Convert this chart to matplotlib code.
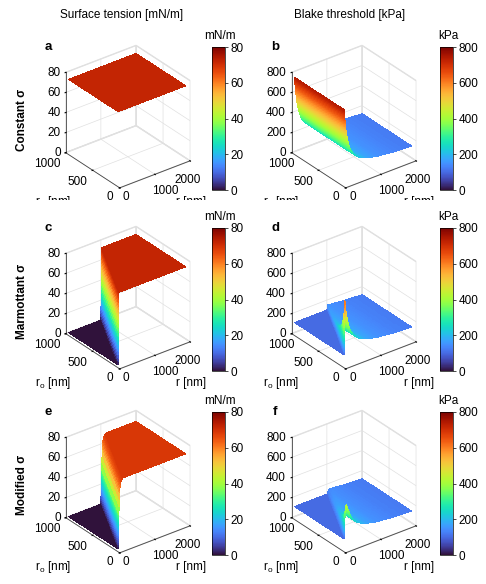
import numpy as np
import matplotlib
import matplotlib.pyplot as plt
from matplotlib.transforms import Bbox, TransformedBbox

plt.rcParams['font.family'] = ['Liberation Sans', 'DejaVu Sans']
plt.rcParams['font.size'] = 8.5
plt.rcParams['grid.color'] = '#e0e0e0'
plt.rcParams['grid.linewidth'] = 0.5
plt.rcParams['mathtext.fontset'] = 'custom'
plt.rcParams['mathtext.rm'] = 'Liberation Sans'

W, H = 486, 584

# radii range (nm)
r_min, r_max = 80, 2000
r0_nm = np.linspace(80, 1000, 60)

# surface tension of water (mN/m)
sigma_water = 72

# Blake threshold for constant sigma vs r (kPa)
blake_r = [80, 90, 100, 125, 150, 175, 200, 250, 300, 400, 500, 700, 1000, 1500, 2000]
blake_kpa = [740, 690, 640, 550, 480, 430, 390, 330, 290, 240, 210, 175, 150, 130, 120]
blake_floor = 100  # value where sigma = 0

# rise of sigma past r0 (r - r0 in nm -> mN/m)
marm_dr = [0, 5, 10, 15, 20]
marm_sigma = [0, 20, 45, 65, 72]
mod_dr = [0, 5, 10, 25, 40, 60, 90, 130]
mod_sigma = [0, 12, 22, 40, 55, 63, 67, 69]

# tick labels
r_ticks = [0, 1000, 2000]
r0_ticks = [0, 500, 1000]
sigma_ticks = [0, 20, 40, 60, 80]
blake_ticks = [0, 200, 400, 600, 800]

# grid for the constant case
Rc, R0c = np.meshgrid(np.geomspace(r_min, r_max, 160), r0_nm)

# grid that follows the wall at r = r0
wall = np.concatenate([np.linspace(0, 20, 25), np.linspace(20, 150, 20)[1:]])
rows = []
for r0 in r0_nm:
    left = np.linspace(r_min, r0, 8)
    right = r0 + 150 + (r_max - r0 - 150) * np.linspace(0, 1, 70)[1:] ** 2
    rows.append(np.concatenate([left, r0 + wall, right]))
Rw = np.array(rows)
R0w = np.repeat(r0_nm[:, None], Rw.shape[1], axis=1)

sig_const = np.full_like(Rc, sigma_water)
sig_marm = np.interp(Rw - R0w, marm_dr, marm_sigma)
sig_mod = np.interp(Rw - R0w, mod_dr, mod_sigma)


def blake_of(R, sig):
    bc = np.interp(R, blake_r, blake_kpa)
    return blake_floor + (bc - blake_floor) * (sig / sigma_water) ** 1.5


panels = [
    ('a', Rc, R0c, sig_const, sigma_ticks), ('b', Rc, R0c, blake_of(Rc, sig_const), blake_ticks),
    ('c', Rw, R0w, sig_marm, sigma_ticks), ('d', Rw, R0w, blake_of(Rw, sig_marm), blake_ticks),
    ('e', Rw, R0w, sig_mod, sigma_ticks), ('f', Rw, R0w, blake_of(Rw, sig_mod), blake_ticks),
]
row_tops = [47, 228, 412]
col_left = [65, 291]
cbar_x = [212, 440]
row_names = ['Constant σ', 'Marmottant σ', 'Modified σ']

# label spots in pixels, relative to the row top
z_label_x = [61, 286]
r0_label_xy = [[(110, 150), (77, 135), (47, 117)], [(336, 150), (303, 135), (281, 117)]]
r_label_xy = [[(126, 150), (165, 144), (188, 133)], [(353, 150), (391, 144), (418, 133)]]

fig = plt.figure(figsize=(W / 100, H / 100), dpi=100)


def fx(px):
    return px / W


def fy(py):
    return 1 - py / H


def label(x, y, s, clip=False, **kw):
    t = fig.text(fx(x), fy(y), s, fontsize=8.5, **kw)
    if clip:
        t.set_clip_box(TransformedBbox(Bbox([[0, fy(200)], [1, 1]]), fig.transFigure))
        t.set_clip_on(True)
    return t


for i, (letter, X, Y, Z, zt) in enumerate(panels):
    row, col = divmod(i, 2)
    top = row_tops[row]
    zmax = zt[-1]
    cx = col_left[col] + 60.5
    cy = top + 72
    size = 175
    ax = fig.add_axes([fx(cx - size / 2), fy(cy + size / 2), fx(size), size / H],
                      projection='3d')
    ax.plot_surface(X, Y, Z, cmap='turbo', vmin=0, vmax=zmax,
                    rstride=1, cstride=1, linewidth=0, antialiased=False)
    ax.set_proj_type('ortho')
    ax.view_init(elev=30, azim=-127.5)
    ax.set_box_aspect((1, 1, 1.045), zoom=0.865)
    ax.set_xlim(0, 2000)
    ax.set_ylim(0, 1000)
    ax.set_zlim(0, zmax)
    ax.set_xticks(r_ticks)
    ax.set_yticks(r0_ticks)
    ax.set_zticks(zt)
    ax.set_xticklabels([])
    ax.set_yticklabels([])
    ax.set_zticklabels([])
    for axis in (ax.xaxis, ax.yaxis, ax.zaxis):
        axis.set_pane_color((1, 1, 1, 1))
        axis.pane.set_edgecolor('#e0e0e0')
        axis.line.set_color('#444444')
        axis.line.set_linewidth(0.6)
        axis._axinfo['tick']['outward_factor'] = 0.05
        axis._axinfo['tick']['inward_factor'] = 0.1

    # tick labels
    for k, v in enumerate(zt):
        label(z_label_x[col], top + 106 - 20 * k, str(v), ha='right', va='center')
    for (x, y), v in zip(r0_label_xy[col], r0_ticks):
        label(x, top + y, str(v), clip=row == 0, ha='center', va='center')
    for (x, y), v in zip(r_label_xy[col], r_ticks):
        label(x, top + y, str(v), clip=row == 0, ha='center', va='center')

    # colorbar
    cax = fig.add_axes([fx(cbar_x[col]), fy(top + 143), fx(13), 143 / H])
    sm = matplotlib.cm.ScalarMappable(norm=plt.Normalize(0, zmax), cmap='turbo')
    cb = fig.colorbar(sm, cax=cax, ticks=zt)
    cb.outline.set_linewidth(0.5)
    cax.tick_params(labelsize=8.5, length=2, width=0.5, pad=2)
    label(cbar_x[col] + 8, top - 5, 'mN/m' if zmax == 80 else 'kPa',
          ha='center', va='bottom')

    # panel letter
    fig.text(fx(48 + col * 227), fy(top), letter, fontsize=9.5, fontweight='bold',
             ha='center', va='center')

    # axis names
    label(53 + col * 228, top + 155, 'r$_\\mathrm{o}$ [nm]', clip=row == 0,
          ha='center', va='center')
    label(191 + col * 228, top + 155, 'r [nm]', clip=row == 0, ha='center', va='center')

for row, name in enumerate(row_names):
    fig.text(fx(22), fy(row_tops[row] + 73), name, rotation=90, ha='center',
             va='center', fontsize=8.5, fontweight='bold')

label(122, 15, 'Surface tension [mN/m]', ha='center', va='center')
label(350, 15, 'Blake threshold [kPa]', ha='center', va='center')

fig.savefig('out.png', dpi=100)
